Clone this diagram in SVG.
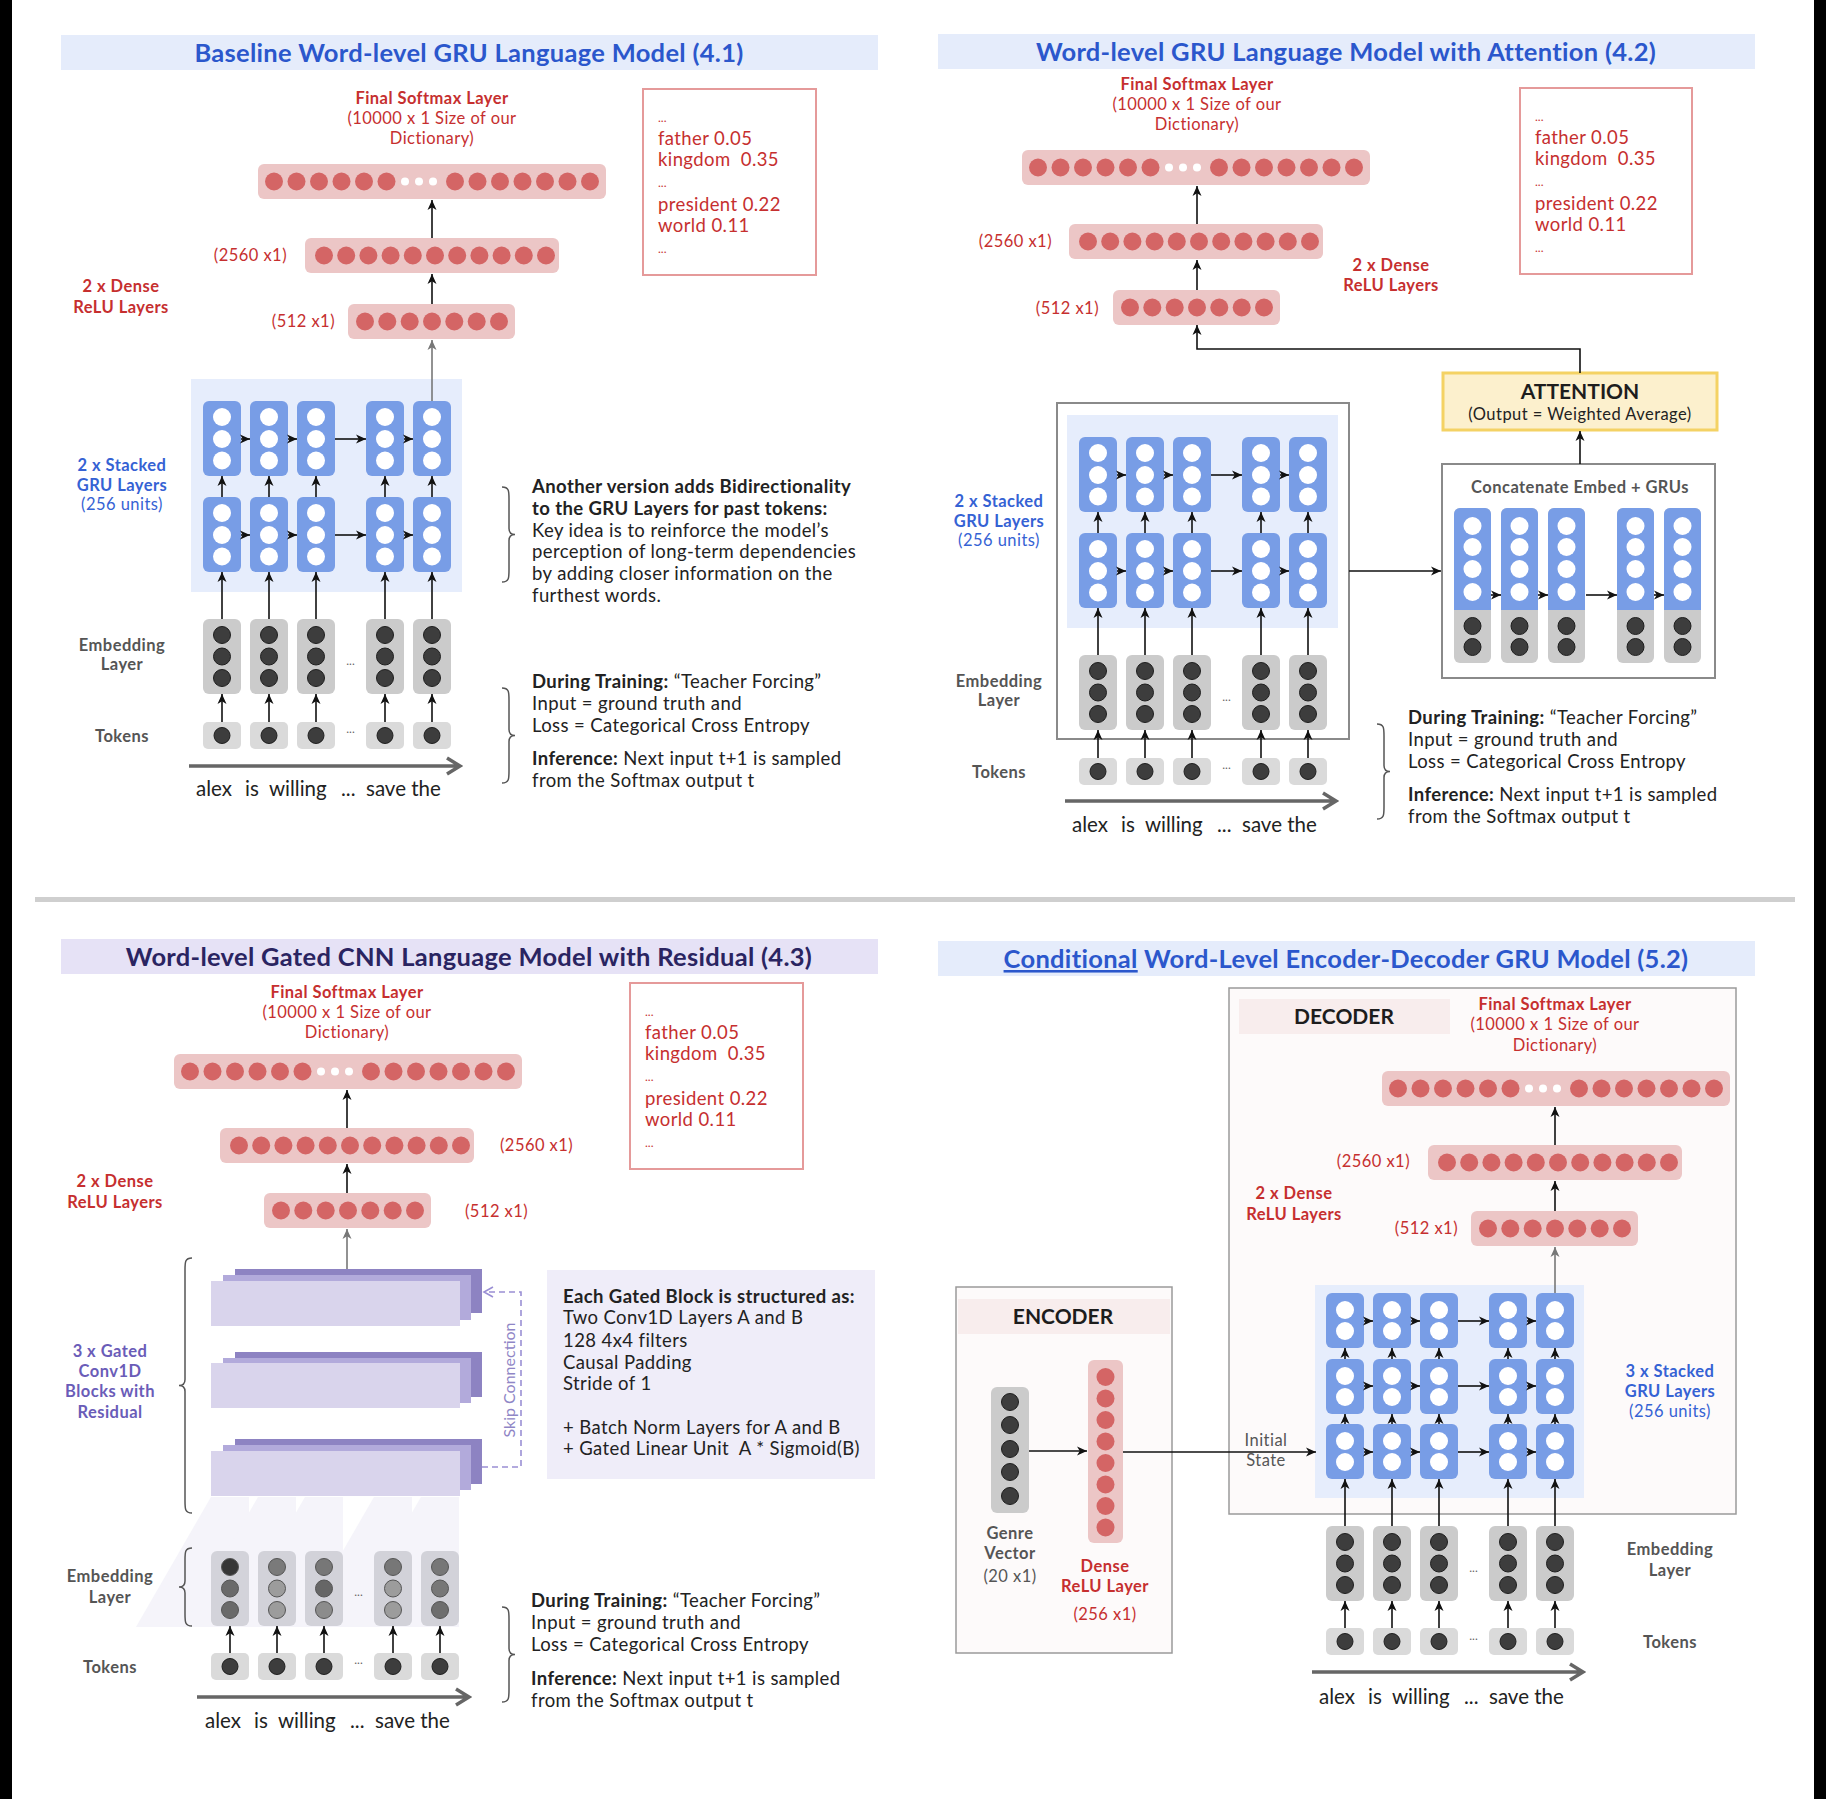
<svg xmlns="http://www.w3.org/2000/svg" width="1826" height="1799" viewBox="0 0 1826 1799">
<style>
text{font-family:Lato,"Liberation Sans",sans-serif;}
.title{font-size:25.5px;letter-spacing:0.3px;font-weight:700;text-anchor:middle;}
.t-blue{fill:#2b57cc}
.t-purple{fill:#2a2461}
.red{fill:#c62f2f;font-size:16.5px;letter-spacing:0.45px}
.rb{fill:#c62f2f;font-weight:700;font-size:16.5px;letter-spacing:0.45px}
.mid{text-anchor:middle}
.end{text-anchor:end}
.gray{fill:#555;font-size:16.5px;letter-spacing:0.45px}
.grayb{fill:#555;font-size:16.5px;letter-spacing:0.45px;font-weight:700}
.blue{fill:#3562d4;font-size:16.5px;letter-spacing:0.45px}
.blueb{fill:#3562d4;font-size:16.5px;letter-spacing:0.45px;font-weight:700}
.purb{fill:#6a5cb8;font-size:16.5px;letter-spacing:0.45px;font-weight:700}
.body{font-size:18.5px;letter-spacing:0.4px;fill:#222}
.b{font-weight:700}
.boxred{font-size:18.5px;letter-spacing:0.4px;fill:#c62f2f}
.ell{font-size:12px;fill:#c62f2f}
.bar{fill:#ecc6c6}
.rc{fill:#d46565}
.gru{fill:#789de6}
.wc{fill:#fff}
.emb{fill:#cbcbcb}
.tok{fill:#dadada}
.dc{fill:#3d3d3d;stroke:#1e1e1e;stroke-width:1}
.arr{stroke:#111;stroke-width:1.6;fill:none;marker-end:url(#ah)}
.arrg{stroke:#777;stroke-width:1.6;fill:none;marker-end:url(#ahg)}
.time{stroke:#666;stroke-width:3.5;fill:none}
.brace{stroke:#555;stroke-width:1.5;fill:none}
.words{font-size:20.5px;fill:#222}
.dots{font-size:12px;fill:#666;text-anchor:middle}
.hdr{font-size:21px;font-weight:700;fill:#1d1d1d;text-anchor:middle}
.pbox{fill:#fff;stroke:#e59a9a;stroke-width:2}
.gbox{fill:#fff;stroke:#8a8a8a;stroke-width:2}
.bk{fill:#8d83c2}.md{fill:#b2aadb}.fr{fill:#d9d4ec}
</style>
<defs>
<marker id="ah" markerUnits="userSpaceOnUse" markerWidth="11" markerHeight="10" refX="10" refY="5" orient="auto"><path d="M0,0.5 L10,5 L0,9.5 L2.8,5 z" fill="#111"/></marker>
<marker id="ahg" markerUnits="userSpaceOnUse" markerWidth="11" markerHeight="10" refX="10" refY="5" orient="auto"><path d="M0,0.5 L10,5 L0,9.5 L2.8,5 z" fill="#777"/></marker>
<marker id="ahs" markerUnits="userSpaceOnUse" markerWidth="12" markerHeight="12" refX="10" refY="6" orient="auto"><path d="M1,1 L10,6 L1,11" fill="none" stroke="#9a8fd4" stroke-width="1.6"/></marker>
<g id="d-soft"><rect width="348" height="35" rx="6" class="bar"/><g class="rc"><circle cx="16" cy="17.5" r="9"/><circle cx="38.5" cy="17.5" r="9"/><circle cx="61" cy="17.5" r="9"/><circle cx="83.5" cy="17.5" r="9"/><circle cx="106" cy="17.5" r="9"/><circle cx="128.5" cy="17.5" r="9"/><circle cx="197" cy="17.5" r="9"/><circle cx="219.5" cy="17.5" r="9"/><circle cx="242" cy="17.5" r="9"/><circle cx="264.5" cy="17.5" r="9"/><circle cx="287" cy="17.5" r="9"/><circle cx="309.5" cy="17.5" r="9"/><circle cx="332" cy="17.5" r="9"/></g><g class="wc"><circle cx="147" cy="17.5" r="4"/><circle cx="161" cy="17.5" r="4"/><circle cx="175" cy="17.5" r="4"/></g></g>
<g id="d-2560"><rect width="254" height="35" rx="6" class="bar"/><g class="rc"><circle cx="19" cy="17.5" r="9"/><circle cx="41.2" cy="17.5" r="9"/><circle cx="63.4" cy="17.5" r="9"/><circle cx="85.6" cy="17.5" r="9"/><circle cx="107.8" cy="17.5" r="9"/><circle cx="130" cy="17.5" r="9"/><circle cx="152.2" cy="17.5" r="9"/><circle cx="174.4" cy="17.5" r="9"/><circle cx="196.6" cy="17.5" r="9"/><circle cx="218.8" cy="17.5" r="9"/><circle cx="241" cy="17.5" r="9"/></g></g>
<g id="d-512"><rect width="167" height="35" rx="6" class="bar"/><g class="rc"><circle cx="17" cy="17.5" r="9"/><circle cx="39.3" cy="17.5" r="9"/><circle cx="61.7" cy="17.5" r="9"/><circle cx="84" cy="17.5" r="9"/><circle cx="106.3" cy="17.5" r="9"/><circle cx="128.7" cy="17.5" r="9"/><circle cx="151" cy="17.5" r="9"/></g></g>
<g id="d-gru3"><rect width="38" height="75" rx="6" class="gru"/><g class="wc"><circle cx="19" cy="16" r="9"/><circle cx="19" cy="38" r="9"/><circle cx="19" cy="59.5" r="9"/></g></g>
<g id="d-gru2"><rect width="38" height="55" rx="6" class="gru"/><g class="wc"><circle cx="19" cy="17" r="9"/><circle cx="19" cy="38" r="9"/></g></g>
<g id="d-emb"><rect width="38" height="75" rx="6" class="emb"/><circle cx="19" cy="16" r="8.5" class="dc"/><circle cx="19" cy="37.5" r="8.5" class="dc"/><circle cx="19" cy="59" r="8.5" class="dc"/></g>
<g id="d-tok"><rect width="38" height="27" rx="5" class="tok"/><circle cx="19" cy="13.5" r="8" class="dc"/></g>
<g id="d-cat"><rect width="37" height="155" rx="6" class="emb"/><rect width="37" height="102" rx="6" class="gru"/><rect y="90" width="37" height="12" class="gru"/><g class="wc"><circle cx="18.5" cy="18" r="9"/><circle cx="18.5" cy="39" r="9"/><circle cx="18.5" cy="61" r="9"/><circle cx="18.5" cy="84" r="9"/></g><circle cx="18.5" cy="118" r="8.5" class="dc"/><circle cx="18.5" cy="139" r="8.5" class="dc"/></g>
</defs>
<rect width="1826" height="1799" fill="#fff"/>
<rect x="0" y="0" width="12" height="1799" fill="#000"/>
<rect x="1814" y="0" width="12" height="1799" fill="#000"/>
<rect id="separator" x="35" y="897" width="1760" height="5" fill="#cfcfcf"/>

<!-- ================= PANEL 1 ================= -->
<g id="p1-title"><rect x="61" y="35" width="817" height="35" fill="#e5ecfb"/><text x="469" y="62" class="title t-blue">Baseline Word-level GRU Language Model (4.1)</text></g>
<g id="p1-softmax-label"><text x="432" y="104" class="rb mid">Final Softmax Layer</text><text x="432" y="124" class="red mid">(10000 x 1 Size of our</text><text x="432" y="144" class="red mid">Dictionary)</text></g>
<g id="p1-softmax"><use href="#d-soft" x="258" y="164"/></g>
<g id="p1-dense2560"><use href="#d-2560" x="305" y="238"/><text x="287" y="261" class="red end">(2560 x1)</text></g>
<g id="p1-dense512"><use href="#d-512" x="348" y="304"/><text x="335" y="327" class="red end">(512 x1)</text></g>
<g id="p1-dense-label"><text x="121" y="292" class="rb mid">2 x Dense</text><text x="121" y="313" class="rb mid">ReLU Layers</text></g>
<g id="p1-probs"><rect x="643" y="89" width="173" height="186" class="pbox"/><text x="658" y="122" class="ell">...</text><text x="658" y="145" class="boxred">father 0.05</text><text x="658" y="166" class="boxred">kingdom&#160; 0.35</text><text x="658" y="187" class="ell">...</text><text x="658" y="211" class="boxred">president 0.22</text><text x="658" y="232" class="boxred">world 0.11</text><text x="658" y="253" class="ell">...</text></g>
<g id="p1-gru"><rect x="191" y="379" width="271" height="213" fill="#e6edfc"/>
<use href="#d-gru3" x="203" y="401"/><use href="#d-gru3" x="250" y="401"/><use href="#d-gru3" x="297" y="401"/><use href="#d-gru3" x="366" y="401"/><use href="#d-gru3" x="413" y="401"/>
<use href="#d-gru3" x="203" y="497"/><use href="#d-gru3" x="250" y="497"/><use href="#d-gru3" x="297" y="497"/><use href="#d-gru3" x="366" y="497"/><use href="#d-gru3" x="413" y="497"/></g>
<g id="p1-embedding"><use href="#d-emb" x="203" y="619"/><use href="#d-emb" x="250" y="619"/><use href="#d-emb" x="297" y="619"/><use href="#d-emb" x="366" y="619"/><use href="#d-emb" x="413" y="619"/><text x="350.5" y="665" class="dots">...</text></g>
<g id="p1-tokens"><use href="#d-tok" x="203" y="722"/><use href="#d-tok" x="250" y="722"/><use href="#d-tok" x="297" y="722"/><use href="#d-tok" x="366" y="722"/><use href="#d-tok" x="413" y="722"/><text x="350.5" y="733" class="dots">...</text></g>
<g id="p1-labels"><text x="122" y="471" class="blueb mid">2 x Stacked</text><text x="122" y="491" class="blueb mid">GRU Layers</text><text x="122" y="510" class="blue mid">(256 units)</text><text x="122" y="651" class="grayb mid">Embedding</text><text x="122" y="670" class="grayb mid">Layer</text><text x="122" y="742" class="grayb mid">Tokens</text></g>
<g id="p1-time"><path d="M189,766 H458 M447,758 L460,766 L447,774" class="time"/><text y="796" class="words"><tspan x="196">alex</tspan><tspan x="245">is</tspan><tspan x="269">willing</tspan><tspan x="341">...</tspan><tspan x="366">save the</tspan></text></g>
<g id="p1-note1"><path d="M502,487 C509,487 509,491 509,499 L509,528.5 C509,532.5 511,534.5 515,534.5 C511,534.5 509,536.5 509,540.5 L509,570 C509,578 509,582 502,582" class="brace"/>
<text x="532" y="493" class="body b">Another version adds Bidirectionality</text><text x="532" y="515" class="body b">to the GRU Layers for past tokens:</text><text x="532" y="537" class="body">Key idea is to reinforce the model’s</text><text x="532" y="558" class="body">perception of long-term dependencies</text><text x="532" y="580" class="body">by adding closer information on the</text><text x="532" y="602" class="body">furthest words.</text></g>
<g id="p1-note2"><path d="M502,688 C509,688 509,692 509,700 L509,729.5 C509,733.5 511,735.5 515,735.5 C511,735.5 509,737.5 509,741.5 L509,771 C509,779 509,783 502,783" class="brace"/>
<text x="532" y="688" class="body"><tspan class="b">During Training:</tspan> “Teacher Forcing”</text><text x="532" y="710" class="body">Input = ground truth and</text><text x="532" y="732" class="body">Loss = Categorical Cross Entropy</text><text x="532" y="765" class="body"><tspan class="b">Inference:</tspan> Next input t+1 is sampled</text><text x="532" y="787" class="body">from the Softmax output t</text></g>
<g id="p1-connectors">
<path d="M432,238 V200" class="arr"/><path d="M432,304 V274" class="arr"/><path d="M432,401 V340" class="arrg"/>
<path d="M241,439 H250" class="arr"/><path d="M288,439 H297" class="arr"/><path d="M335,439 H366" class="arr"/><path d="M404,439 H413" class="arr"/>
<path d="M241,535 H250" class="arr"/><path d="M288,535 H297" class="arr"/><path d="M335,535 H366" class="arr"/><path d="M404,535 H413" class="arr"/>
<path d="M222,497 V476" class="arr"/><path d="M269,497 V476" class="arr"/><path d="M316,497 V476" class="arr"/><path d="M385,497 V476" class="arr"/><path d="M432,497 V476" class="arr"/>
<path d="M222,619 V572" class="arr"/><path d="M269,619 V572" class="arr"/><path d="M316,619 V572" class="arr"/><path d="M385,619 V572" class="arr"/><path d="M432,619 V572" class="arr"/>
<path d="M222,722 V694" class="arr"/><path d="M269,722 V694" class="arr"/><path d="M316,722 V694" class="arr"/><path d="M385,722 V694" class="arr"/><path d="M432,722 V694" class="arr"/>
</g>

<!-- ================= PANEL 2 ================= -->
<g id="p2-title"><rect x="938" y="34" width="817" height="35" fill="#e5ecfb"/><text x="1346" y="61" class="title t-blue">Word-level GRU Language Model with Attention (4.2)</text></g>
<g id="p2-softmax-label"><text x="1197" y="90" class="rb mid">Final Softmax Layer</text><text x="1197" y="110" class="red mid">(10000 x 1 Size of our</text><text x="1197" y="130" class="red mid">Dictionary)</text></g>
<g id="p2-softmax"><use href="#d-soft" x="1022" y="150"/></g>
<g id="p2-dense2560"><use href="#d-2560" x="1069" y="224"/><text x="1052" y="247" class="red end">(2560 x1)</text></g>
<g id="p2-dense512"><use href="#d-512" x="1113" y="290"/><text x="1099" y="314" class="red end">(512 x1)</text></g>
<g id="p2-dense-label"><text x="1391" y="271" class="rb mid">2 x Dense</text><text x="1391" y="291" class="rb mid">ReLU Layers</text></g>
<g id="p2-probs"><rect x="1520" y="88" width="172" height="186" class="pbox"/><text x="1535" y="121" class="ell">...</text><text x="1535" y="144" class="boxred">father 0.05</text><text x="1535" y="165" class="boxred">kingdom&#160; 0.35</text><text x="1535" y="186" class="ell">...</text><text x="1535" y="210" class="boxred">president 0.22</text><text x="1535" y="231" class="boxred">world 0.11</text><text x="1535" y="252" class="ell">...</text></g>
<g id="p2-attention"><rect x="1443" y="373" width="274" height="57" fill="#fcf0cd" stroke="#f4d264" stroke-width="3"/><text x="1580" y="399" class="hdr">ATTENTION</text><text x="1580" y="420" font-size="16.5" letter-spacing="0.45" fill="#222" text-anchor="middle">(Output = Weighted Average)</text></g>
<g id="p2-rnn-box"><rect x="1057" y="403" width="292" height="336" class="gbox"/><rect x="1067" y="415" width="271" height="213" fill="#e6edfc"/>
<use href="#d-gru3" x="1079" y="437"/><use href="#d-gru3" x="1126" y="437"/><use href="#d-gru3" x="1173" y="437"/><use href="#d-gru3" x="1242" y="437"/><use href="#d-gru3" x="1289" y="437"/>
<use href="#d-gru3" x="1079" y="533"/><use href="#d-gru3" x="1126" y="533"/><use href="#d-gru3" x="1173" y="533"/><use href="#d-gru3" x="1242" y="533"/><use href="#d-gru3" x="1289" y="533"/>
<use href="#d-emb" x="1079" y="655"/><use href="#d-emb" x="1126" y="655"/><use href="#d-emb" x="1173" y="655"/><use href="#d-emb" x="1242" y="655"/><use href="#d-emb" x="1289" y="655"/><text x="1226.5" y="701" class="dots">...</text></g>
<g id="p2-tokens"><use href="#d-tok" x="1079" y="758"/><use href="#d-tok" x="1126" y="758"/><use href="#d-tok" x="1173" y="758"/><use href="#d-tok" x="1242" y="758"/><use href="#d-tok" x="1289" y="758"/><text x="1226.5" y="769" class="dots">...</text></g>
<g id="p2-concat"><rect x="1442" y="464" width="273" height="214" class="gbox"/><text x="1580" y="493" font-size="16.5" letter-spacing="0.45" font-weight="700" fill="#555" text-anchor="middle">Concatenate Embed + GRUs</text>
<use href="#d-cat" x="1454" y="508"/><use href="#d-cat" x="1501" y="508"/><use href="#d-cat" x="1548" y="508"/><use href="#d-cat" x="1617" y="508"/><use href="#d-cat" x="1664" y="508"/></g>
<g id="p2-labels"><text x="999" y="507" class="blueb mid">2 x Stacked</text><text x="999" y="527" class="blueb mid">GRU Layers</text><text x="999" y="546" class="blue mid">(256 units)</text><text x="999" y="687" class="grayb mid">Embedding</text><text x="999" y="706" class="grayb mid">Layer</text><text x="999" y="778" class="grayb mid">Tokens</text></g>
<g id="p2-time"><path d="M1065,801 H1334 M1323,793 L1336,801 L1323,809" class="time"/><text y="832" class="words"><tspan x="1072">alex</tspan><tspan x="1121">is</tspan><tspan x="1145">willing</tspan><tspan x="1217">...</tspan><tspan x="1242">save the</tspan></text></g>
<g id="p2-note"><path d="M1377,724 C1384,724 1384,728 1384,736 L1384,765.5 C1384,769.5 1386,771.5 1390,771.5 C1386,771.5 1384,773.5 1384,777.5 L1384,807 C1384,815 1384,819 1377,819" class="brace"/>
<text x="1408" y="724" class="body"><tspan class="b">During Training:</tspan> “Teacher Forcing”</text><text x="1408" y="746" class="body">Input = ground truth and</text><text x="1408" y="768" class="body">Loss = Categorical Cross Entropy</text><text x="1408" y="801" class="body"><tspan class="b">Inference:</tspan> Next input t+1 is sampled</text><text x="1408" y="823" class="body">from the Softmax output t</text></g>
<g id="p2-connectors">
<path d="M1197,224 V186" class="arr"/><path d="M1197,290 V260" class="arr"/>
<path d="M1580,373 V349 H1197 V325" class="arr" stroke-width="2.2"/>
<path d="M1580,464 V431" class="arr"/>
<path d="M1349,571 H1441" class="arr" stroke-width="1.8"/>
<path d="M1117,475 H1126" class="arr"/><path d="M1164,475 H1173" class="arr"/><path d="M1211,475 H1242" class="arr"/><path d="M1280,475 H1289" class="arr"/>
<path d="M1117,571 H1126" class="arr"/><path d="M1164,571 H1173" class="arr"/><path d="M1211,571 H1242" class="arr"/><path d="M1280,571 H1289" class="arr"/>
<path d="M1098,533 V512" class="arr"/><path d="M1145,533 V512" class="arr"/><path d="M1192,533 V512" class="arr"/><path d="M1261,533 V512" class="arr"/><path d="M1308,533 V512" class="arr"/>
<path d="M1098,655 V608" class="arr"/><path d="M1145,655 V608" class="arr"/><path d="M1192,655 V608" class="arr"/><path d="M1261,655 V608" class="arr"/><path d="M1308,655 V608" class="arr"/>
<path d="M1098,758 V730" class="arr"/><path d="M1145,758 V730" class="arr"/><path d="M1192,758 V730" class="arr"/><path d="M1261,758 V730" class="arr"/><path d="M1308,758 V730" class="arr"/>
<path d="M1491,595 H1501" class="arr"/><path d="M1538,595 H1548" class="arr"/><path d="M1586,595 H1617" class="arr"/><path d="M1654,595 H1664" class="arr"/>
</g>

<!-- ================= PANEL 3 ================= -->
<g id="p3-title"><rect x="61" y="939" width="817" height="35" fill="#e6e2f6"/><text x="469" y="966" class="title t-purple">Word-level Gated CNN Language Model with Residual (4.3)</text></g>
<g id="p3-softmax-label"><text x="347" y="998" class="rb mid">Final Softmax Layer</text><text x="347" y="1018" class="red mid">(10000 x 1 Size of our</text><text x="347" y="1038" class="red mid">Dictionary)</text></g>
<g id="p3-softmax"><use href="#d-soft" x="174" y="1054"/></g>
<g id="p3-dense2560"><use href="#d-2560" x="220" y="1128"/><text x="500" y="1151" class="red">(2560 x1)</text></g>
<g id="p3-dense512"><use href="#d-512" x="264" y="1193"/><text x="465" y="1217" class="red">(512 x1)</text></g>
<g id="p3-dense-label"><text x="115" y="1187" class="rb mid">2 x Dense</text><text x="115" y="1208" class="rb mid">ReLU Layers</text></g>
<g id="p3-probs"><rect x="630" y="983" width="173" height="186" class="pbox"/><text x="645" y="1016" class="ell">...</text><text x="645" y="1039" class="boxred">father 0.05</text><text x="645" y="1060" class="boxred">kingdom&#160; 0.35</text><text x="645" y="1081" class="ell">...</text><text x="645" y="1105" class="boxred">president 0.22</text><text x="645" y="1126" class="boxred">world 0.11</text><text x="645" y="1147" class="ell">...</text></g>
<g id="p3-shading" fill="#efedf8" opacity="0.6"><polygon points="136,1627 211,1497 249,1497 249,1627"/><polygon points="183,1627 258,1497 296,1497 296,1627"/><polygon points="230,1627 305,1497 343,1497 343,1627"/><polygon points="299,1627 374,1497 412,1497 412,1627"/><polygon points="346,1627 421,1497 459,1497 459,1627"/></g>
<g id="p3-block1"><rect x="235" y="1269" width="247" height="44" class="bk"/><rect x="223" y="1275" width="248" height="45" class="md"/><rect x="211" y="1281" width="249" height="45" class="fr"/></g>
<g id="p3-block2"><rect x="235" y="1352" width="247" height="45" class="bk"/><rect x="223" y="1358" width="248" height="45" class="md"/><rect x="211" y="1363" width="249" height="45" class="fr"/></g>
<g id="p3-block3"><rect x="235" y="1439" width="247" height="45" class="bk"/><rect x="223" y="1445" width="248" height="45" class="md"/><rect x="211" y="1451" width="249" height="45" class="fr"/></g>
<g id="p3-blocks-label"><path d="M192,1258 C185,1258 185,1262 185,1270 L185,1379.5 C185,1383.5 183,1385.5 179,1385.5 C183,1385.5 185,1387.5 185,1391.5 L185,1501 C185,1509 185,1513 192,1513" class="brace"/>
<text x="110" y="1357" class="purb mid">3 x Gated</text><text x="110" y="1377" class="purb mid">Conv1D</text><text x="110" y="1397" class="purb mid">Blocks with</text><text x="110" y="1418" class="purb mid">Residual</text></g>
<g id="p3-info"><rect x="547" y="1270" width="328" height="209" fill="#efedf9"/>
<text x="563" y="1303" class="body b">Each Gated Block is structured as:</text><text x="563" y="1324" class="body">Two Conv1D Layers A and B</text><text x="563" y="1347" class="body">128 4x4 filters</text><text x="563" y="1369" class="body">Causal Padding</text><text x="563" y="1390" class="body">Stride of 1</text><text x="563" y="1434" class="body">+ Batch Norm Layers for A and B</text><text x="563" y="1455" class="body">+ Gated Linear Unit&#160; A * Sigmoid(B)</text></g>
<g id="p3-embedding"><g fill="#cfcfd6" opacity="0.9"><rect x="211" y="1551" width="38" height="75" rx="6"/><rect x="258" y="1551" width="38" height="75" rx="6"/><rect x="305" y="1551" width="38" height="75" rx="6"/><rect x="374" y="1551" width="38" height="75" rx="6"/><rect x="421" y="1551" width="38" height="75" rx="6"/></g>
<g stroke="#555" stroke-width="1"><circle cx="230" cy="1567" r="8.5" fill="#363636"/><circle cx="230" cy="1588.5" r="8.5" fill="#6a6a6a"/><circle cx="230" cy="1610" r="8.5" fill="#6a6a6a"/>
<circle cx="277" cy="1567" r="8.5" fill="#7a7a7a"/><circle cx="277" cy="1588.5" r="8.5" fill="#9c9c9c"/><circle cx="277" cy="1610" r="8.5" fill="#9c9c9c"/>
<circle cx="324" cy="1567" r="8.5" fill="#777"/><circle cx="324" cy="1588.5" r="8.5" fill="#666"/><circle cx="324" cy="1610" r="8.5" fill="#8c8c8c"/>
<circle cx="393" cy="1567" r="8.5" fill="#777"/><circle cx="393" cy="1588.5" r="8.5" fill="#9c9c9c"/><circle cx="393" cy="1610" r="8.5" fill="#9c9c9c"/>
<circle cx="440" cy="1567" r="8.5" fill="#777"/><circle cx="440" cy="1588.5" r="8.5" fill="#777"/><circle cx="440" cy="1610" r="8.5" fill="#6e6e6e"/></g>
<text x="358.5" y="1596" class="dots">...</text>
<path d="M192,1548 C185,1548 185,1552 185,1560 L185,1581 C185,1585 183,1587 179,1587 C183,1587 185,1589 185,1593 L185,1614 C185,1622 185,1626 192,1626" class="brace"/></g>
<g id="p3-tokens"><use href="#d-tok" x="211" y="1653"/><use href="#d-tok" x="258" y="1653"/><use href="#d-tok" x="305" y="1653"/><use href="#d-tok" x="374" y="1653"/><use href="#d-tok" x="421" y="1653"/><text x="358.5" y="1664" class="dots">...</text></g>
<g id="p3-labels"><text x="110" y="1582" class="grayb mid">Embedding</text><text x="110" y="1603" class="grayb mid">Layer</text><text x="110" y="1673" class="grayb mid">Tokens</text></g>
<g id="p3-time"><path d="M197,1697 H467 M456,1689 L469,1697 L456,1705" class="time"/><text y="1728" class="words"><tspan x="205">alex</tspan><tspan x="254">is</tspan><tspan x="278">willing</tspan><tspan x="350">...</tspan><tspan x="375">save the</tspan></text></g>
<g id="p3-note"><path d="M502,1607 C509,1607 509,1611 509,1619 L509,1648.5 C509,1652.5 511,1654.5 515,1654.5 C511,1654.5 509,1656.5 509,1660.5 L509,1690 C509,1698 509,1702 502,1702" class="brace"/>
<text x="531" y="1607" class="body"><tspan class="b">During Training:</tspan> “Teacher Forcing”</text><text x="531" y="1629" class="body">Input = ground truth and</text><text x="531" y="1651" class="body">Loss = Categorical Cross Entropy</text><text x="531" y="1685" class="body"><tspan class="b">Inference:</tspan> Next input t+1 is sampled</text><text x="531" y="1707" class="body">from the Softmax output t</text></g>
<g id="p3-connectors">
<path d="M347,1128 V1090" class="arr"/><path d="M347,1193 V1164" class="arr"/><path d="M347,1269 V1229" class="arrg"/>
<path d="M482,1467 H521 V1292 H484" fill="none" stroke="#9a8fd4" stroke-width="1.6" stroke-dasharray="6,4" marker-end="url(#ahs)"/>
<text transform="translate(515,1380) rotate(-90)" font-size="16" fill="#8f86c6" text-anchor="middle">Skip Connection</text>
<path d="M230,1653 V1626" class="arr"/><path d="M277,1653 V1626" class="arr"/><path d="M324,1653 V1626" class="arr"/><path d="M393,1653 V1626" class="arr"/><path d="M440,1653 V1626" class="arr"/>
</g>

<!-- ================= PANEL 4 ================= -->
<g id="p4-title"><rect x="938" y="941" width="817" height="35" fill="#e5ecfb"/><text x="1346" y="968" class="title t-blue"><tspan text-decoration="underline">Conditional</tspan> Word-Level Encoder-Decoder GRU Model (5.2)</text></g>
<g id="p4-decoder"><rect x="1229" y="988" width="507" height="526" fill="#fdfafa" stroke="#9a9a9a" stroke-width="1.5"/><rect x="1239" y="999" width="211" height="35" fill="#f8eded"/><text x="1344" y="1024" class="hdr">DECODER</text></g>
<g id="p4-softmax-label"><text x="1555" y="1010" class="rb mid">Final Softmax Layer</text><text x="1555" y="1030" class="red mid">(10000 x 1 Size of our</text><text x="1555" y="1051" class="red mid">Dictionary)</text></g>
<g id="p4-softmax"><use href="#d-soft" x="1382" y="1071"/></g>
<g id="p4-dense2560"><use href="#d-2560" x="1428" y="1145"/><text x="1410" y="1167" class="red end">(2560 x1)</text></g>
<g id="p4-dense512"><use href="#d-512" x="1471" y="1211"/><text x="1458" y="1234" class="red end">(512 x1)</text></g>
<g id="p4-dense-label"><text x="1294" y="1199" class="rb mid">2 x Dense</text><text x="1294" y="1220" class="rb mid">ReLU Layers</text></g>
<g id="p4-gru"><rect x="1315" y="1285" width="269" height="213" fill="#e6edfc"/>
<use href="#d-gru2" x="1326" y="1293"/><use href="#d-gru2" x="1373" y="1293"/><use href="#d-gru2" x="1420" y="1293"/><use href="#d-gru2" x="1489" y="1293"/><use href="#d-gru2" x="1536" y="1293"/>
<use href="#d-gru2" x="1326" y="1359"/><use href="#d-gru2" x="1373" y="1359"/><use href="#d-gru2" x="1420" y="1359"/><use href="#d-gru2" x="1489" y="1359"/><use href="#d-gru2" x="1536" y="1359"/>
<use href="#d-gru2" x="1326" y="1424"/><use href="#d-gru2" x="1373" y="1424"/><use href="#d-gru2" x="1420" y="1424"/><use href="#d-gru2" x="1489" y="1424"/><use href="#d-gru2" x="1536" y="1424"/></g>
<g id="p4-embedding"><use href="#d-emb" x="1326" y="1526"/><use href="#d-emb" x="1373" y="1526"/><use href="#d-emb" x="1420" y="1526"/><use href="#d-emb" x="1489" y="1526"/><use href="#d-emb" x="1536" y="1526"/><text x="1473.5" y="1572" class="dots">...</text></g>
<g id="p4-tokens"><use href="#d-tok" x="1326" y="1628"/><use href="#d-tok" x="1373" y="1628"/><use href="#d-tok" x="1420" y="1628"/><use href="#d-tok" x="1489" y="1628"/><use href="#d-tok" x="1536" y="1628"/><text x="1473.5" y="1640" class="dots">...</text></g>
<g id="p4-labels"><text x="1670" y="1377" class="blueb mid">3 x Stacked</text><text x="1670" y="1397" class="blueb mid">GRU Layers</text><text x="1670" y="1417" class="blue mid">(256 units)</text><text x="1670" y="1555" class="grayb mid">Embedding</text><text x="1670" y="1576" class="grayb mid">Layer</text><text x="1670" y="1648" class="grayb mid">Tokens</text></g>
<g id="p4-time"><path d="M1312,1672 H1581 M1570,1664 L1583,1672 L1570,1680" class="time"/><text y="1704" class="words"><tspan x="1319">alex</tspan><tspan x="1368">is</tspan><tspan x="1392">willing</tspan><tspan x="1464">...</tspan><tspan x="1489">save the</tspan></text></g>
<g id="p4-encoder"><rect x="956" y="1287" width="216" height="366" fill="#fdfafa" stroke="#9a9a9a" stroke-width="1.5"/><rect x="958" y="1299" width="212" height="35" fill="#f8eded"/><text x="1063" y="1324" class="hdr">ENCODER</text></g>
<g id="p4-genre"><rect x="991" y="1387" width="38" height="126" rx="6" class="emb"/><circle cx="1010" cy="1402" r="8.5" class="dc"/><circle cx="1010" cy="1425" r="8.5" class="dc"/><circle cx="1010" cy="1449" r="8.5" class="dc"/><circle cx="1010" cy="1472" r="8.5" class="dc"/><circle cx="1010" cy="1496" r="8.5" class="dc"/>
<text x="1010" y="1539" class="grayb mid">Genre</text><text x="1010" y="1559" class="grayb mid">Vector</text><text x="1010" y="1582" class="gray mid">(20 x1)</text></g>
<g id="p4-dense-enc"><rect x="1088" y="1360" width="35" height="183" rx="6" class="bar"/><g class="rc"><circle cx="1105.5" cy="1377" r="9"/><circle cx="1105.5" cy="1398.5" r="9"/><circle cx="1105.5" cy="1420" r="9"/><circle cx="1105.5" cy="1441.5" r="9"/><circle cx="1105.5" cy="1463" r="9"/><circle cx="1105.5" cy="1484.5" r="9"/><circle cx="1105.5" cy="1506" r="9"/><circle cx="1105.5" cy="1527.5" r="9"/></g>
<text x="1105" y="1572" class="rb mid">Dense</text><text x="1105" y="1592" class="rb mid">ReLU Layer</text><text x="1105" y="1620" class="red mid">(256 x1)</text></g>
<g id="p4-connectors">
<path d="M1555,1145 V1107" class="arr"/><path d="M1555,1211 V1181" class="arr"/><path d="M1555,1293 V1247" class="arrg"/>
<path d="M1029,1451 H1087" class="arr"/>
<path d="M1123,1452 H1316" class="arr"/>
<text x="1266" y="1446" class="gray mid">Initial</text><text x="1266" y="1466" class="gray mid">State</text>
<path d="M1364,1321 H1373" class="arr"/><path d="M1411,1321 H1420" class="arr"/><path d="M1458,1321 H1489" class="arr"/><path d="M1527,1321 H1536" class="arr"/>
<path d="M1364,1386 H1373" class="arr"/><path d="M1411,1386 H1420" class="arr"/><path d="M1458,1386 H1489" class="arr"/><path d="M1527,1386 H1536" class="arr"/>
<path d="M1364,1452 H1373" class="arr"/><path d="M1411,1452 H1420" class="arr"/><path d="M1458,1452 H1489" class="arr"/><path d="M1527,1452 H1536" class="arr"/>
<path d="M1345,1359 V1348" class="arr"/><path d="M1392,1359 V1348" class="arr"/><path d="M1439,1359 V1348" class="arr"/><path d="M1508,1359 V1348" class="arr"/><path d="M1555,1359 V1348" class="arr"/>
<path d="M1345,1424 V1414" class="arr"/><path d="M1392,1424 V1414" class="arr"/><path d="M1439,1424 V1414" class="arr"/><path d="M1508,1424 V1414" class="arr"/><path d="M1555,1424 V1414" class="arr"/>
<path d="M1345,1526 V1479" class="arr"/><path d="M1392,1526 V1479" class="arr"/><path d="M1439,1526 V1479" class="arr"/><path d="M1508,1526 V1479" class="arr"/><path d="M1555,1526 V1479" class="arr"/>
<path d="M1345,1628 V1601" class="arr"/><path d="M1392,1628 V1601" class="arr"/><path d="M1439,1628 V1601" class="arr"/><path d="M1508,1628 V1601" class="arr"/><path d="M1555,1628 V1601" class="arr"/>
</g>
</svg>
